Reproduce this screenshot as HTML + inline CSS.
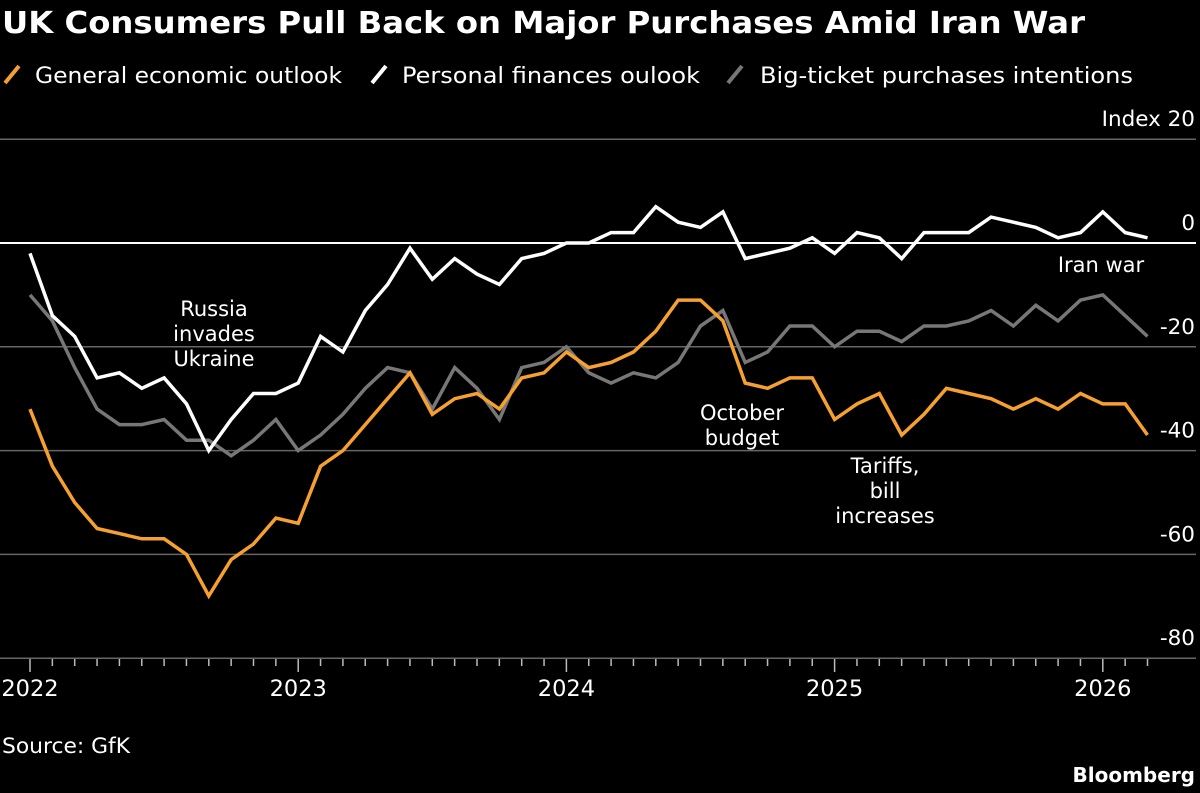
<!DOCTYPE html>
<html><head><meta charset="utf-8"><style>
html,body{margin:0;padding:0;background:#000;}
svg{display:block;font-family:"DejaVu Sans","Liberation Sans",sans-serif;}
</style></head><body>
<svg id="chart" width="1200" height="793" viewBox="0 0 1200 793">
<rect width="1200" height="793" fill="#000"/>
<text x="2" y="33" fill="#fff" font-size="30" font-weight="bold" textLength="1083" lengthAdjust="spacingAndGlyphs">UK Consumers Pull Back on Major Purchases Amid Iran War</text>
<g>
<g><line x1="5" y1="83" x2="19" y2="66" stroke="#f6a02f" stroke-width="4"/><text x="35" y="83" fill="#fff" font-size="22" textLength="307" lengthAdjust="spacingAndGlyphs">General economic outlook</text></g>
<g><line x1="372" y1="83" x2="386" y2="66" stroke="#fff" stroke-width="4"/><text x="402" y="83" fill="#fff" font-size="22" textLength="298" lengthAdjust="spacingAndGlyphs">Personal finances oulook</text></g>
<g><line x1="728" y1="83" x2="742" y2="66" stroke="#777" stroke-width="4"/><text x="760" y="83" fill="#fff" font-size="22" textLength="373" lengthAdjust="spacingAndGlyphs">Big-ticket purchases intentions</text></g>
</g>
<g id="grid"></g>
<g id="yticks"></g>
<g id="xaxis"></g>
<g id="series"></g>
<g fill="#fff" font-size="21" text-anchor="middle">
<text x="214" y="316"><tspan x="214">Russia</tspan><tspan x="214" dy="25">invades</tspan><tspan x="214" dy="25">Ukraine</tspan></text>
<text x="742" y="420"><tspan x="742">October</tspan><tspan x="742" dy="25">budget</tspan></text>
<text x="885" y="473"><tspan x="885">Tariffs,</tspan><tspan x="885" dy="25">bill</tspan><tspan x="885" dy="25">increases</tspan></text>
<text x="1101" y="272">Iran war</text>
</g>
<text x="2" y="753" fill="#fff" font-size="21" textLength="128" lengthAdjust="spacingAndGlyphs">Source: GfK</text>
<text x="1195" y="782" fill="#fff" font-size="20" font-weight="bold" text-anchor="end">Bloomberg</text>
</svg>
<script>
const yTickValues = [20, 0, -20, -40, -60, -80];
const yTickLabels = ["Index 20", "0", "-20", "-40", "-60", "-80"];
const yearLabels = ["2022", "2023", "2024", "2025", "2026"];
const general = [-32,-43,-50,-55,-56,-57,-57,-60,-68,-61,-58,-53,-54,-43,-40,-35,-30,-25,-33,-30,-29,-32,-26,-25,-21,-24,-23,-21,-17,-11,-11,-15,-27,-28,-26,-26,-34,-31,-29,-37,-33,-28,-29,-30,-32,-30,-32,-29,-31,-31,-37];
const personal = [-2,-14,-18,-26,-25,-28,-26,-31,-40,-34,-29,-29,-27,-18,-21,-13,-8,-1,-7,-3,-6,-8,-3,-2,0,0,2,2,7,4,3,6,-3,-2,-1,1,-2,2,1,-3,2,2,2,5,4,3,1,2,6,2,1];
const bigTicket = [-10,-15,-24,-32,-35,-35,-34,-38,-38,-41,-38,-34,-40,-37,-33,-28,-24,-25,-32,-24,-28,-34,-24,-23,-20,-25,-27,-25,-26,-23,-16,-13,-23,-21,-16,-16,-20,-17,-17,-19,-16,-16,-15,-13,-16,-12,-15,-11,-10,-14,-18];

const NS = "http://www.w3.org/2000/svg";
const x0 = 30, monthW = 22.35;
const xScale = i => x0 + i * monthW;
const yScale = v => 243 - v * 5.19;
function mk(tag, attrs, parent){const e=document.createElementNS(NS,tag);for(const k in attrs)e.setAttribute(k,attrs[k]);parent.appendChild(e);return e;}

const grid = document.getElementById('grid');
const yt = document.getElementById('yticks');
yTickValues.forEach((v,i)=>{
  const l = mk('line',{x1:0,x2:1196,y1:yScale(v),y2:yScale(v),stroke:v===0?'#fff':'#666','stroke-width':v===0?2:1.5},grid);
  
  
  const t = mk('text',{x:1195,y:yScale(v)-13,fill:'#fff','font-size':21.5,'text-anchor':'end'},yt);
  t.textContent = yTickLabels[i];
  
  
});

const xa = document.getElementById('xaxis');
const nMonths = general.length;
for(let i=0;i<nMonths;i++){
  const isYear = i%12===0;
  const tk = mk('line',{x1:xScale(i),x2:xScale(i),y1:659,y2:isYear?672:666,stroke:'#bbb','stroke-width':1.5},xa);
  
  
}
yearLabels.forEach((lab,j)=>{
  const t = mk('text',{x:xScale(j*12),y:696,fill:'#fff','font-size':22.5,'text-anchor':'middle'},xa);
  t.textContent = lab;
  
  
});

const sg = document.getElementById('series');
[[bigTicket,'#777','line-big-ticket'],[general,'#f6a02f','line-general-outlook'],[personal,'#fff','line-personal-finances']].forEach(([arr,col,name])=>{
  const d = arr.map((v,i)=>(i?'L':'M')+xScale(i).toFixed(1)+','+yScale(v).toFixed(1)).join(' ');
  const p = mk('path',{d:d,fill:'none',stroke:col,'stroke-width':3.5,'stroke-linejoin':'miter'},sg);
  
  
});
</script>
</body></html>
